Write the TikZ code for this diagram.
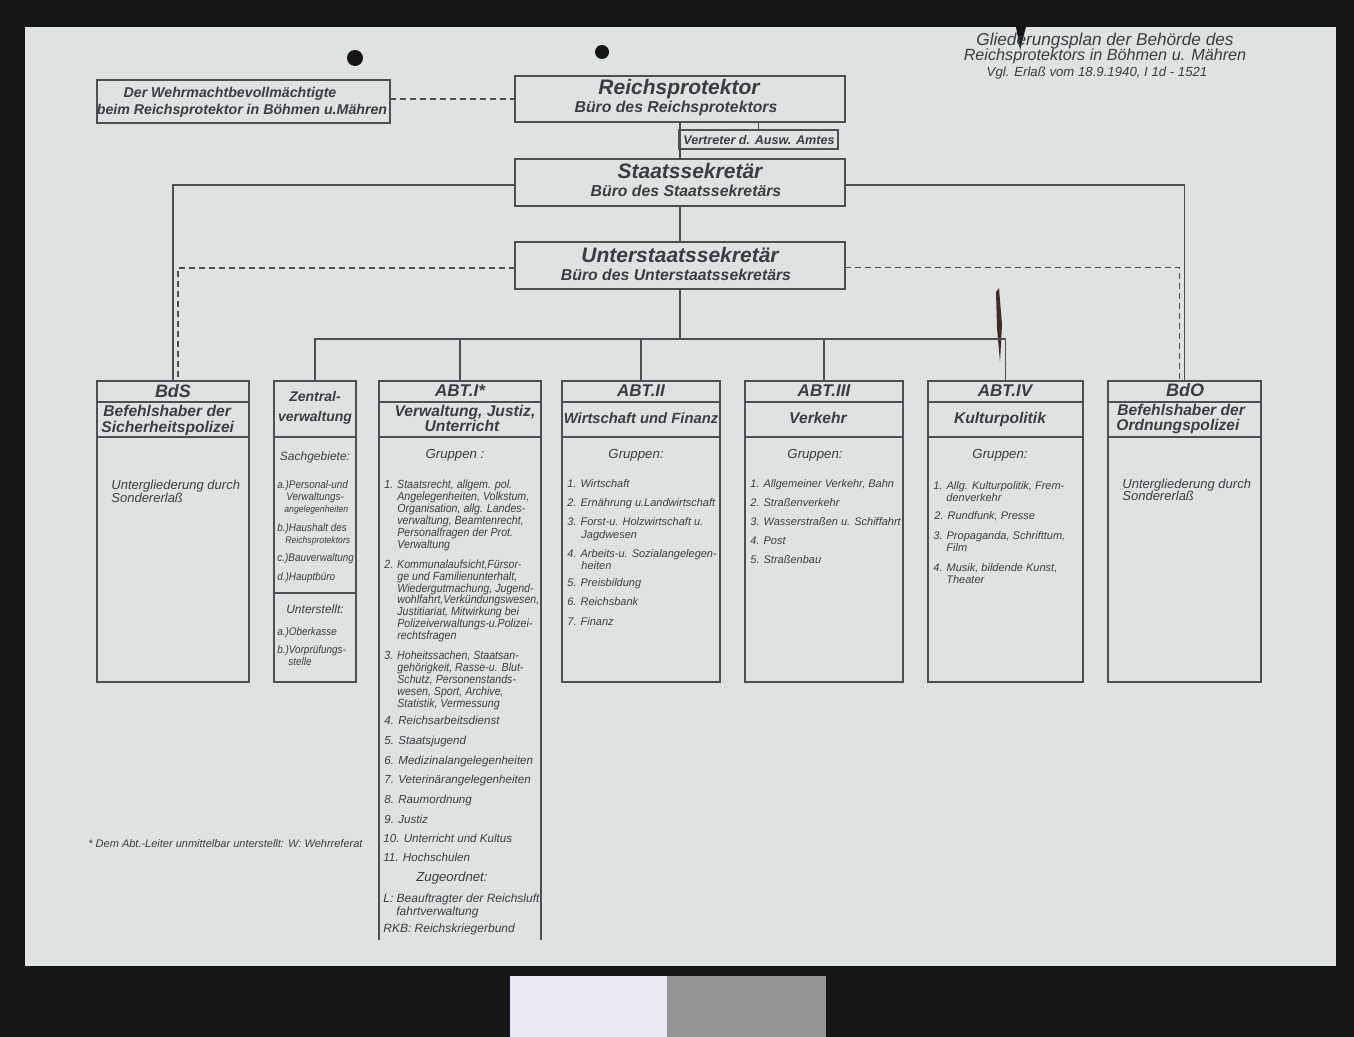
\documentclass[tikz,border=0pt]{standalone}
\usepackage{fontspec}
\setmainfont{Liberation Sans}
\newfontfamily\narrow{Liberation Sans}[FakeStretch=0.9]
\newcommand\fs[1]{\fontsize{#1}{#1}\selectfont}
\definecolor{paper}{RGB}{222,227,225}
\definecolor{bgdark}{RGB}{22,22,24}
\definecolor{ink}{RGB}{58,61,66}
\definecolor{rule}{RGB}{76,79,84}
\definecolor{cardw}{RGB}{236,232,244}
\definecolor{cardg}{RGB}{150,150,152}
\definecolor{tear}{RGB}{60,45,40}
\tikzset{
 boxst/.style={draw=rule, line width=0.85pt, inner sep=0pt, outer sep=0pt},
 nobox/.style={inner sep=0pt, outer sep=0pt},
 conn/.style={draw=rule, line width=0.7pt},
 dsh/.style={conn, dash pattern=on 3pt off 2pt},
 tl/.style={inner sep=0pt, anchor=mid west, text=ink},
 tc/.style={inner sep=0pt, anchor=mid, text=ink},
 fi/.style={font=\itshape\fs{#1}},
 fb/.style={font=\bfseries\itshape\fs{#1}},
 fn/.style={font=\narrow\itshape\fs{#1}},
}
\newcommand\mkbox[6][boxst]{\node[#1, minimum width={(#5-#3)*0.5pt}, minimum height={(#6-#4)*0.5pt}] (#2) at ({(#3+#5)/2},{(#4+#6)/2}) {};}
\newcommand\divl[2]{\draw[rule, line width=0.85pt] (#1.west |- 0,#2) -- (#1.east |- 0,#2);}
\begin{document}
\begin{tikzpicture}[x=0.5pt,y=-0.5pt]
\useasboundingbox (0,0) rectangle (1354,1037);
\fill[bgdark] (0,0) rectangle (1354,1037);
\fill[paper] (25,27) rectangle (1336,966);
\fill[cardw] (510,976) rectangle (667,1037);
\fill[cardg] (667,976) rectangle (826,1037);
% punch holes and tear
\fill[bgdark] (355,58) circle[radius=4pt];
\fill[bgdark] (602,52) circle[radius=3.5pt];
\fill[bgdark] (1016,27) -- (1026,27) -- (1023,38) -- (1020,50) -- (1018,38) -- cycle;
\fill[tear] (996,292) -- (999,288) -- (1002,325) -- (1000,362) -- (997,328) -- cycle;

% boxes
\mkbox{wb}{97}{80}{390}{123}
\mkbox{rp}{515}{76}{845}{122}
\mkbox{va}{679}{130}{838}{149}
\mkbox{ss}{515}{159}{845}{206}
\mkbox{us}{515}{242}{845}{289}
\mkbox{bds}{97}{381}{249}{682}
\mkbox{zv}{274}{381}{356}{682}
\mkbox[nobox]{a1}{379}{381}{541}{940}
\mkbox{a2}{562}{381}{720}{682}
\mkbox{a3}{745}{381}{903}{682}
\mkbox{a4}{928}{381}{1083}{682}
\mkbox{bdo}{1108}{381}{1261}{682}
\draw[rule, line width=0.85pt] (a1.south west) -- (a1.north west) -- (a1.north east) -- (a1.south east);

% dividers
\divl{bds}{402}\divl{bds}{437}
\divl{zv}{437}\divl{zv}{593}
\divl{a1}{402}\divl{a1}{437}
\divl{a2}{402}\divl{a2}{437}
\divl{a3}{402}\divl{a3}{437}
\divl{a4}{402}\divl{a4}{437}
\divl{bdo}{402}\divl{bdo}{437}

% connectors
\draw[dsh] (wb.east |- rp.west) -- (rp.west);
\draw[conn] (rp.south) -- (ss.north);
\draw[conn] (va.north) -- (va.north |- rp.south);
\draw[conn] (ss.south) -- (us.north);
\draw[conn] ([yshift=-1.25pt]ss.west) -| (bds.north);
\draw[conn] ([yshift=-1.25pt]ss.east) -| (bdo.north);
\draw[dsh] ([yshift=-1.25pt]us.west) -| ([xshift=2.5pt]bds.north);
\draw[dsh] ([yshift=-1pt]us.east) -| ([xshift=-2.5pt]bdo.north);
\coordinate (bus) at (680,339);
\draw[conn] (us.south) -- (bus);
\draw[conn] (zv.north) |- (a4.north |- bus) -- (a4.north);
\foreach \n in {a1,a2,a3} \draw[conn] (\n.north) -- (\n.north |- bus);

% title
\node[tc, fi=8.6] (g1) at (1105,40) {Gliederungsplan der Behörde des};
\node[tc, fi=8.1] (g2) at (1105,55) {Reichsprotektors in Böhmen u. Mähren};
\node[tc, fi=6.6] (g3) at (1097,71) {Vgl. Erlaß vom 18.9.1940, I 1d - 1521};

% top boxes text
\node[tc, fb=7.1] (wb1) at (230,92) {Der Wehrmachtbevollmächtigte};
\node[tc, fb=7.1] (wb2) at (242,109) {beim Reichsprotektor in Böhmen u.Mähren};
\node[tc, fb=10.5] (rp1) at (679,89) {Reichsprotektor};
\node[tc, fb=7.9] (rp2) at (676,107) {Büro des Reichsprotektors};
\node[tc, fb=6.3] (va1) at (759,139) {Vertreter d. Ausw. Amtes};
\node[tc, fb=10.5] (ss1) at (690,173) {Staatssekretär};
\node[tc, fb=7.9] (ss2) at (686,191) {Büro des Staatssekretärs};
\node[tc, fb=10.5] (us1) at (680,257) {Unterstaatssekretär};
\node[tc, fb=7.9] (us2) at (676,275) {Büro des Unterstaatssekretärs};

% BdS
\node[tc, fb=9] (bdsh) at (173,392) {BdS};
\node[tl, fb=7.8] (bdst1) at (103,411) {Befehlshaber der};
\node[tl, fb=7.8] (bdst2) at (101,427) {Sicherheitspolizei};
\node[tl, fi=6.5] (bdsb1) at (111,484) {Untergliederung durch};
\node[tl, fi=6.5] (bdsb2) at (111,497) {Sondererlaß};

% Zentralverwaltung
\node[tc, fb=7] (zvh1) at (315,396) {Zentral-};
\node[tc, fb=7] (zvh2) at (315,416) {verwaltung};
\node[tc, fi=6] (zvs) at (315,455) {Sachgebiete:};
\node[tl, fn=5.5] (zv1) at (277,483) {a.)Personal-und};
\node[tl, fn=5.5] (zv2) at (286,495) {Verwaltungs-};
\node[tl, fn=4.8] (zv3) at (284,507) {angelegenheiten};
\node[tl, fn=5.5] (zv4) at (277,526) {b.)Haushalt des};
\node[tl, fn=4.8] (zv5) at (285,538) {Reichsprotektors};
\node[tl, fn=5.5] (zv6) at (277,556) {c.)Bauverwaltung};
\node[tl, fn=5.5] (zv7) at (277,575) {d.)Hauptbüro};
\node[tc, fi=6] (zvu) at (315,608) {Unterstellt:};
\node[tl, fn=5.5] (zv8) at (277,630) {a.)Oberkasse};
\node[tl, fn=5.5] (zv9) at (277,648) {b.)Vorprüfungs-};
\node[tl, fn=5.5] (zv10) at (288,660) {stelle};

% ABT I
\node[tc, fb=8.5] (a1h) at (460,391) {ABT.I*};
\node[tc, fb=7.8] (a1t1) at (465,411) {Verwaltung, Justiz,};
\node[tc, fb=7.8] (a1t2) at (462,426) {Unterricht};
\node[tc, fi=6.6] (a1g) at (455,453) {Gruppen :};
\foreach \x/\y/\t [count=\i] in {
 384/483/{1. Staatsrecht, allgem. pol.},
 397/495/{Angelegenheiten, Volkstum,},
 397/507/{Organisation, allg. Landes-},
 397/519/{verwaltung, Beamtenrecht,},
 397/531/{Personalfragen der Prot.},
 397/543/{Verwaltung},
 384/563/{2. Kommunalaufsicht,Fürsor-},
 397/575/{ge und Familienunterhalt,},
 397/587/{Wiedergutmachung, Jugend-},
 397/598/{wohlfahrt,Verkündungswesen,},
 397/610/{Justitiariat, Mitwirkung bei},
 397/622/{Polizeiverwaltungs-u.Polizei-},
 397/634/{rechtsfragen},
 384/654/{3. Hoheitssachen, Staatsan-},
 397/666/{gehörigkeit, Rasse-u. Blut-},
 397/678/{Schutz, Personenstands-},
 397/690/{wesen, Sport, Archive,},
 397/702/{Statistik, Vermessung}}
 \node[tl, fn=5.9] (a1i\i) at (\x,\y) {\t};
\foreach \x/\y/\t [count=\i] in {
 384/719/{4. Reichsarbeitsdienst},
 384/739/{5. Staatsjugend},
 384/759/{6. Medizinalangelegenheiten},
 384/778/{7. Veterinärangelegenheiten},
 384/798/{8. Raumordnung},
 384/818/{9. Justiz},
 383/837/{10. Unterricht und Kultus},
 383/856/{11. Hochschulen}}
 \node[tl, fi=5.8] (a1j\i) at (\x,\y) {\t};
\node[tc, fi=6.6] (a1z) at (452,876) {Zugeordnet:};
\node[tl, fi=6] (a1k1) at (383,897) {L: Beauftragter der Reichsluft};
\node[tl, fi=6] (a1k2) at (396,910) {fahrtverwaltung};
\node[tl, fi=6] (a1k3) at (383,927) {RKB: Reichskriegerbund};

% ABT II
\node[tc, fb=8.5] (a2h) at (641,391) {ABT.II};
\node[tc, fb=7.4] (a2t) at (641,418) {Wirtschaft und Finanz};
\node[tc, fi=6.6] (a2g) at (636,453) {Gruppen:};
\foreach \x/\y/\t [count=\i] in {
 567/482/{1. Wirtschaft},
 567/501/{2. Ernährung u.Landwirtschaft},
 567/520/{3. Forst-u. Holzwirtschaft u.},
 581/533/{Jagdwesen},
 567/552/{4. Arbeits-u. Sozialangelegen-},
 581/564/{heiten},
 567/581/{5. Preisbildung},
 567/600/{6. Reichsbank},
 567/620/{7. Finanz}}
 \node[tl, fi=5.5] (a2i\i) at (\x,\y) {\t};

% ABT III
\node[tc, fb=8.5] (a3h) at (824,391) {ABT.III};
\node[tc, fb=7.8] (a3t) at (818,418) {Verkehr};
\node[tc, fi=6.6] (a3g) at (815,453) {Gruppen:};
\foreach \x/\y/\t [count=\i] in {
 750/482/{1. Allgemeiner Verkehr, Bahn},
 750/501/{2. Straßenverkehr},
 750/520/{3. Wasserstraßen u. Schiffahrt},
 750/539/{4. Post},
 750/558/{5. Straßenbau}}
 \node[tl, fi=5.5] (a3i\i) at (\x,\y) {\t};

% ABT IV
\node[tc, fb=8.5] (a4h) at (1005,391) {ABT.IV};
\node[tc, fb=7.8] (a4t) at (1000,418) {Kulturpolitik};
\node[tc, fi=6.6] (a4g) at (1000,453) {Gruppen:};
\foreach \x/\y/\t [count=\i] in {
 933/484/{1. Allg. Kulturpolitik, Frem-},
 946/496/{denverkehr},
 934/514/{2. Rundfunk, Presse},
 933/534/{3. Propaganda, Schrifttum,},
 946/546/{Film},
 933/566/{4. Musik, bildende Kunst,},
 946/578/{Theater}}
 \node[tl, fi=5.5] (a4i\i) at (\x,\y) {\t};

% BdO
\node[tc, fb=9] (bdoh) at (1185,391) {BdO};
\node[tl, fb=7.8] (bdot1) at (1117,410) {Befehlshaber der};
\node[tl, fb=7.8] (bdot2) at (1116,425) {Ordnungspolizei};
\node[tl, fi=6.5] (bdob1) at (1122,483) {Untergliederung durch};
\node[tl, fi=6.5] (bdob2) at (1122,495) {Sondererlaß};

% footnote
\node[tl, fi=5.5] (fn) at (88,842) {* Dem Abt.-Leiter unmittelbar unterstellt: W: Wehrreferat};
\end{tikzpicture}
\end{document}
